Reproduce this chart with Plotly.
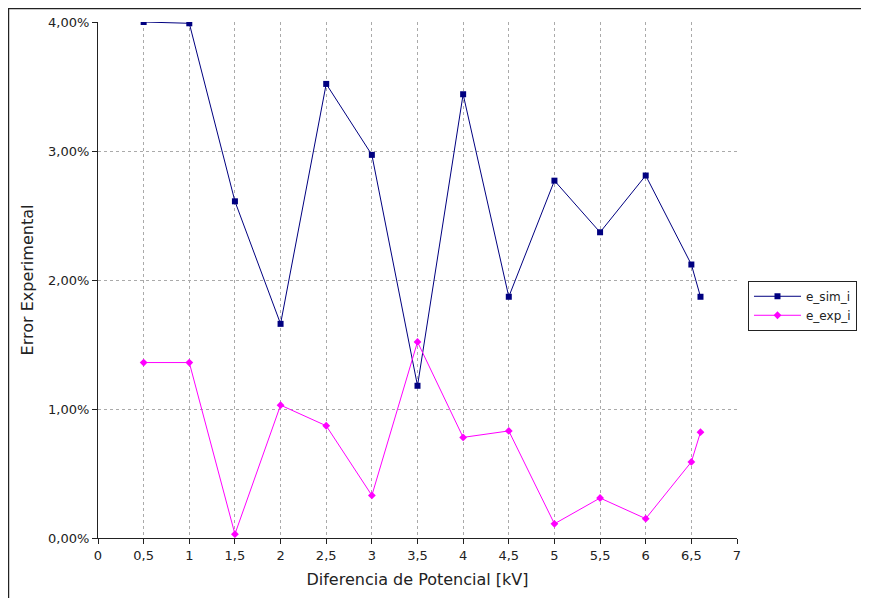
import plotly.graph_objects as go

x_kv = [0.5, 1, 1.5, 2, 2.5, 3, 3.5, 4, 4.5, 5, 5.5, 6, 6.5, 6.6]
e_sim_i = [4.00, 3.99, 2.61, 1.66, 3.52, 2.97, 1.18, 3.44, 1.87, 2.77, 2.37, 2.81, 2.12, 1.87]
e_exp_i = [1.36, 1.36, 0.03, 1.03, 0.87, 0.33, 1.52, 0.78, 0.83, 0.11, 0.31, 0.15, 0.59, 0.82]

y_sim = [v / 100 for v in e_sim_i]
y_exp = [v / 100 for v in e_exp_i]

fig = go.Figure()
fig.add_trace(go.Scatter(x=x_kv, y=y_sim, mode="lines+markers", name="e_sim_i",
                         line=dict(color="#000080", width=1),
                         marker=dict(symbol="square", size=6, color="#000080")))
fig.add_trace(go.Scatter(x=x_kv, y=y_exp, mode="lines+markers", name="e_exp_i",
                         line=dict(color="#ff00ff", width=1),
                         marker=dict(symbol="diamond", size=6, color="#ff00ff")))

font = "DejaVu Sans"
fig.update_layout(
    width=861, height=590,
    margin=dict(l=90, r=132, t=14, b=60, autoexpand=False),
    paper_bgcolor="white", plot_bgcolor="white",
    separators=",.",
    font=dict(family=font, size=13, color="#222"),
    showlegend=True,
    legend=dict(x=1.0172, y=0.4985, xanchor="left", yanchor="top",
                bordercolor="#222", borderwidth=1, bgcolor="white",
                itemwidth=47,
                font=dict(family=font, size=12), tracegroupgap=0),
    xaxis=dict(range=[0, 7], dtick=0.5, tick0=0, showgrid=True, automargin=False,
               gridcolor="#aaa", griddash="dot", gridwidth=1,
               showline=True, linecolor="#222", linewidth=1,
               ticks="outside", ticklen=5, tickcolor="#222",
               zeroline=False,
               title=dict(text="Diferencia de Potencial [kV]", font=dict(size=16), standoff=12)),
    yaxis=dict(range=[0, 0.04], dtick=0.01, tickformat=".2%", showgrid=True, automargin=False,
               gridcolor="#aaa", griddash="dot", gridwidth=1,
               showline=True, linecolor="#222", linewidth=1,
               ticks="outside", ticklen=5, tickcolor="#222",
               zeroline=False,
               title=dict(text="Error Experimental", font=dict(size=16), standoff=10)),
)

fig.add_shape(type="rect", xref="paper", yref="paper",
              x0=-0.1401, x1=1.5, y0=-0.5, y1=1.026,
              line=dict(color="#222", width=1.5), fillcolor="rgba(0,0,0,0)", layer="below")

fig.write_html("out.html")
